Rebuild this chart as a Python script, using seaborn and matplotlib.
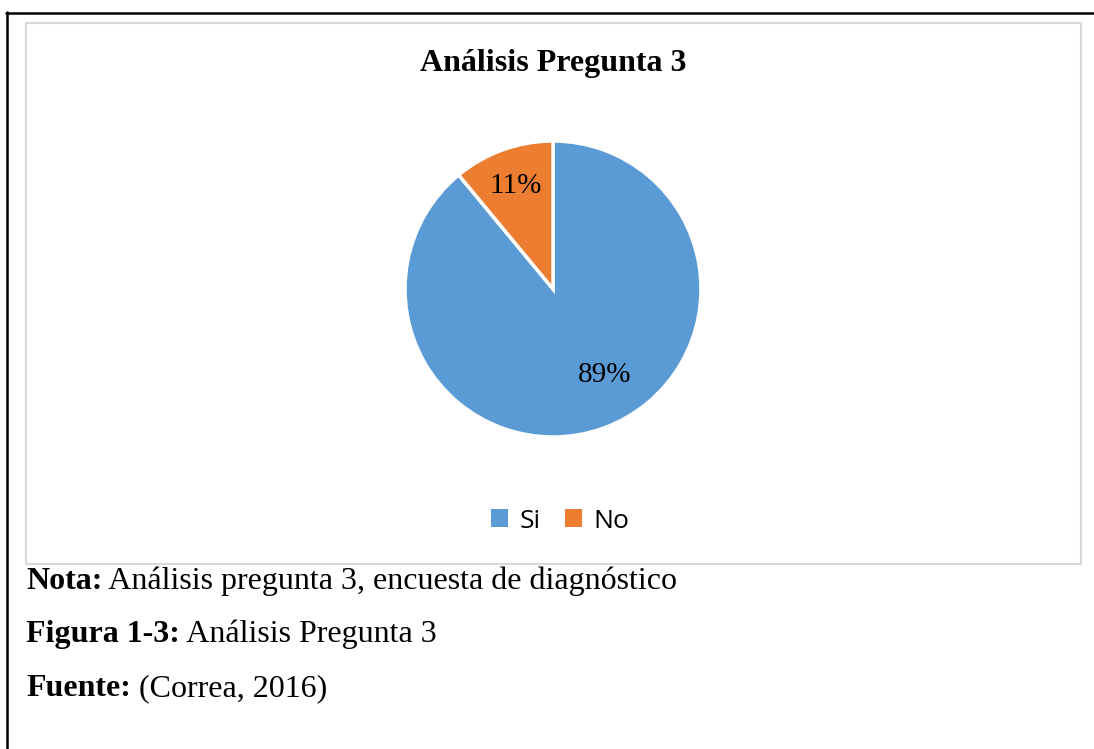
import numpy as np
import matplotlib
matplotlib.use("Agg")
import matplotlib.pyplot as plt
from matplotlib.patches import Rectangle, Patch
from matplotlib.lines import Line2D
import seaborn as sns

# data
labels = ["Si", "No"]
values = [89, 11]
colors = ["#5B9BD5", "#ED7D31"]

title = "Análisis Pregunta 3"
notes = [
    ("Nota:", " Análisis pregunta 3, encuesta de diagnóstico"),
    ("Figura 1-3:", " Análisis Pregunta 3"),
    ("Fuente:", " (Correa, 2016)"),
]

sns.set_theme(style="white")
plt.rcParams["font.family"] = ["Liberation Serif", "DejaVu Serif"]
plt.rcParams["text.color"] = "black"

W, H = 1094, 749
fig = plt.figure(figsize=(W / 100, H / 100), dpi=100)
fig.patch.set_facecolor("white")


def fx(px):
    return px / W


def fy(py):
    return 1 - py / H


# outer page border (top and left)
fig.add_artist(Line2D([fx(6), 1.0], [fy(12.5), fy(12.5)], color="black", lw=1.8))
fig.add_artist(Line2D([fx(6.5), fx(6.5)], [fy(12), 0.0], color="black", lw=1.8))

# chart area box
fig.add_artist(Rectangle((fx(26), fy(564)), fx(1081) - fx(26), fy(23) - fy(564),
                         transform=fig.transFigure, fill=False,
                         edgecolor="#D9D9D9", lw=1.5))

# pie
cx, cy, r = 553, 289, 148
ax = fig.add_axes([fx(cx - r), fy(cy + r), 2 * r / W, 2 * r / H])
wedges, texts, autotexts = ax.pie(
    values, colors=colors, startangle=90, counterclock=False,
    autopct="%1.0f%%", pctdistance=0.74,
    wedgeprops=dict(edgecolor="white", linewidth=2.5),
    textprops=dict(fontsize=21, color="black"),
)
# Excel puts the big slice's label a bit further round and nearer the centre
w = wedges[0]
ang = np.deg2rad((w.theta1 + w.theta2) / 2 + 11)
autotexts[0].set_position((0.68 * np.cos(ang), 0.68 * np.sin(ang)))
ax.set_xlim(-1, 1)
ax.set_ylim(-1, 1)
ax.set_aspect("equal")
ax.axis("off")

fig.text(fx(553), fy(64), title, ha="center", va="center",
         fontsize=23, fontweight="bold", color="black")

# legend
handles = [Patch(facecolor=c, edgecolor="none") for c in colors]
leg = fig.legend(handles, labels, loc="center", bbox_to_anchor=(fx(560), fy(521)),
                 ncol=2, frameon=False, handlelength=0.65, handleheight=0.65,
                 handletextpad=0.45, columnspacing=0.9,
                 prop=dict(family="Open Sans", size=19))
for t in leg.get_texts():
    t.set_color("black")

# notes below the chart (bold lead-in, then regular text on the same baseline)
fig.canvas.draw()
renderer = fig.canvas.get_renderer()
for (bold, rest), y in zip(notes, [589, 642, 696]):
    t = fig.text(fx(26), fy(y), bold, ha="left", va="baseline",
                 fontsize=23, fontweight="bold", color="black")
    bb = t.get_window_extent(renderer=renderer)
    fig.text(bb.x1 / W, fy(y), rest, ha="left", va="baseline", fontsize=23,
             color="black")

fig.savefig("out.png", dpi=100, facecolor="white")
